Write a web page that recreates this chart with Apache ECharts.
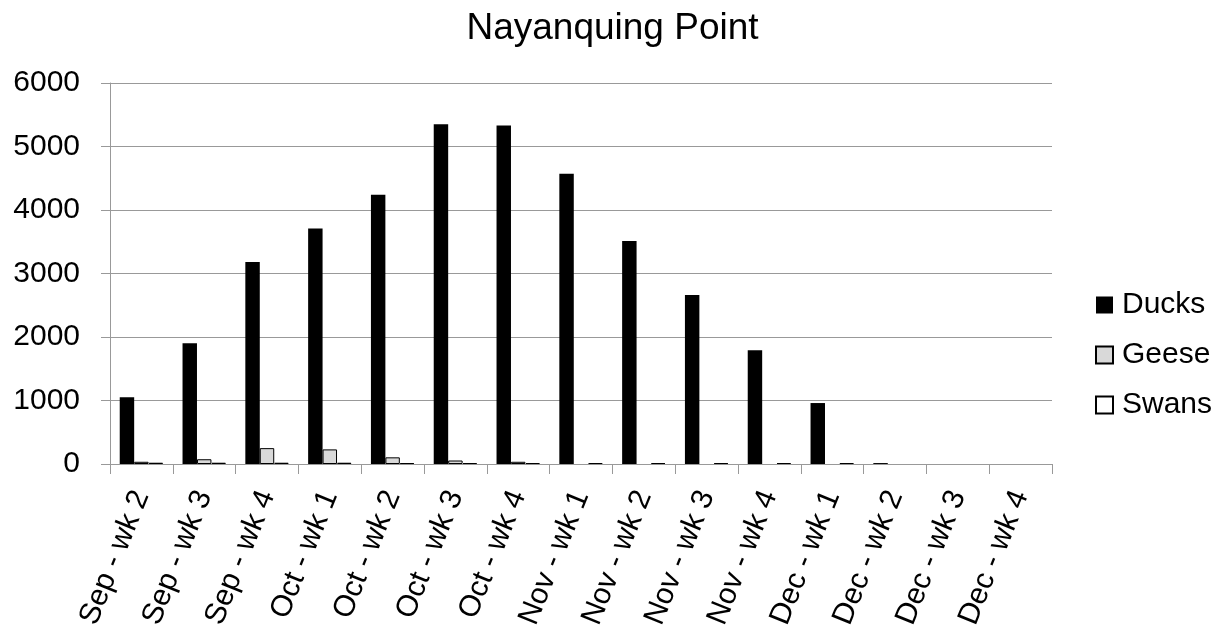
<!DOCTYPE html>
<html>
<head>
<meta charset="utf-8">
<script src="https://cdn.jsdelivr.net/npm/echarts@6/dist/echarts.min.js"></script>
<style>
html,body{margin:0;padding:0;background:#fff;}
#chart{width:1225px;height:637px;}
</style>
</head>
<body>
<div id="chart"></div>
<script>
const categories = ['Sep - wk 2','Sep - wk 3','Sep - wk 4','Oct - wk 1','Oct - wk 2','Oct - wk 3','Oct - wk 4','Nov - wk 1','Nov - wk 2','Nov - wk 3','Nov - wk 4','Dec - wk 1','Dec - wk 2','Dec - wk 3','Dec - wk 4'];
const ducks = [1050, 1900, 3180, 3710, 4240, 5350, 5330, 4570, 3510, 2660, 1790, 960, 15, 0, 0];
const geese = [35, 75, 250, 230, 105, 55, 35, 0, 0, 0, 0, 0, 0, 0, 0];
const swans = [20, 20, 20, 20, 15, 15, 15, 15, 15, 15, 15, 15, 0, 0, 0];
const yTicks = [0, 1000, 2000, 3000, 4000, 5000, 6000];

// zero values are not drawn (no outline) as in the original
const noZero = arr => arr.map(v => (v === 0 ? null : v));

const font = 'Liberation Sans, Arial, sans-serif';
const chart = echarts.init(document.getElementById('chart'));
chart.setOption({
  animation: false,
  backgroundColor: '#fff',
  title: {
    text: 'Nayanquing Point',
    left: 'center',
    top: 5,
    textStyle: {fontFamily: font, fontSize: 37, fontWeight: 'normal', color: '#000'}
  },
  legend: {
    orient: 'vertical',
    left: 1095,
    top: 290,
    padding: 0,
    itemWidth: 17,
    itemHeight: 17,
    itemGap: 20,
    icon: 'rect',
    textStyle: {fontFamily: font, fontSize: 30, color: '#000', padding: [0,0,0,4]},
    data: ['Ducks','Geese','Swans']
  },
  grid: {left: 110, right: 173, top: 83, bottom: 173, containLabel: false},
  xAxis: {
    type: 'category',
    data: categories,
    axisLine: {lineStyle: {color: '#999', width: 1}},
    axisTick: {show: true, length: 10, lineStyle: {color: '#999'}},
    axisLabel: {rotate: 68, fontFamily: font, fontSize: 30, color: '#000', margin: 28, interval: 0}
  },
  yAxis: {
    type: 'value',
    min: yTicks[0],
    max: yTicks[yTicks.length - 1],
    interval: 1000,
    axisLine: {show: true, lineStyle: {color: '#999', width: 1}},
    axisTick: {show: true, length: 9, lineStyle: {color: '#999'}},
    axisLabel: {fontFamily: font, fontSize: 30, color: '#000', margin: 30, formatter: v => String(v)},
    splitLine: {lineStyle: {color: '#999', width: 1}}
  },
  series: [
    {name: 'Ducks', type: 'bar', data: noZero(ducks), barGap: '0%', barCategoryGap: '31%',
     itemStyle: {color: '#000', borderColor: '#000', borderWidth: 0}},
    {name: 'Geese', type: 'bar', data: noZero(geese), barGap: '0%', barCategoryGap: '31%',
     itemStyle: {color: '#d9d9d9', borderColor: '#000', borderWidth: 1}},
    {name: 'Swans', type: 'bar', data: noZero(swans), barGap: '0%', barCategoryGap: '31%',
     itemStyle: {color: '#fff', borderColor: '#000', borderWidth: 1}}
  ]
});
</script>
</body>
</html>
